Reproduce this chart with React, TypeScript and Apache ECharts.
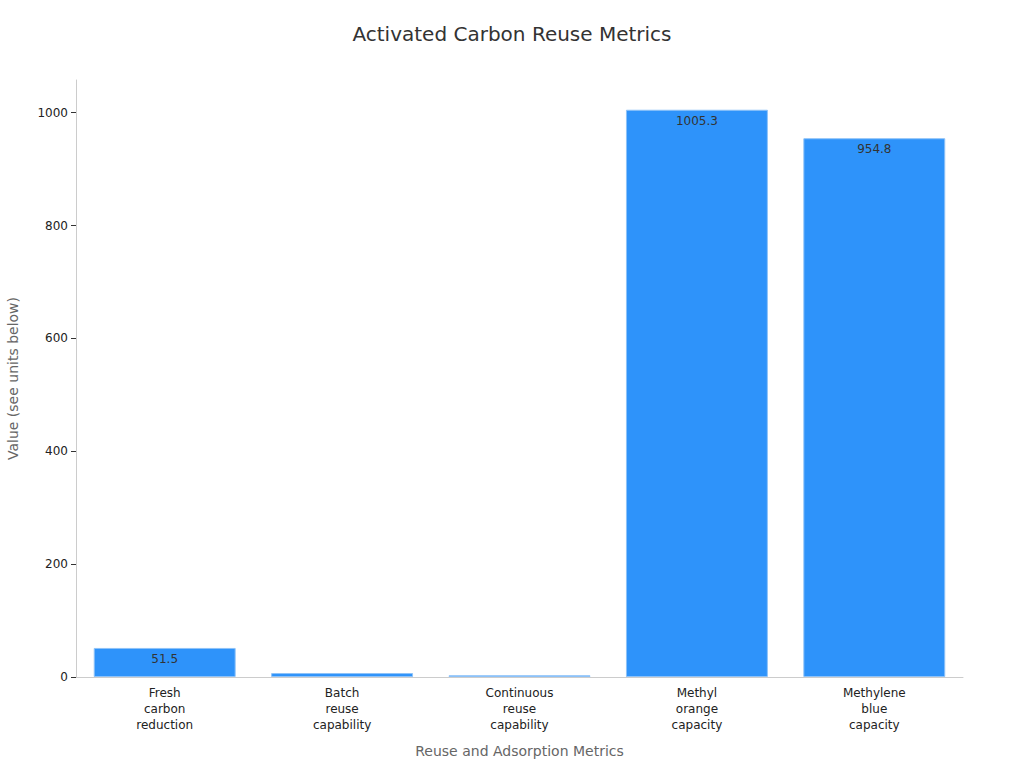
import * as echarts from 'echarts';
import { useEffect, useRef } from 'react';

const CATEGORIES = [
  'Fresh\ncarbon\nreduction',
  'Batch\nreuse\ncapability',
  'Continuous\nreuse\ncapability',
  'Methyl\norange\ncapacity',
  'Methylene\nblue\ncapacity',
];
const VALUES = [51.5, 7, 3, 1005.3, 954.8];
const Y_TICKS = [0, 200, 400, 600, 800, 1000];

const FONT = '"DejaVu Sans", sans-serif';

export default function App() {
  const ref = useRef<HTMLDivElement | null>(null);

  useEffect(() => {
    document.body.style.margin = '0';
    if (!ref.current) return undefined;
    const chart = echarts.init(ref.current, undefined, { renderer: 'svg' });

    chart.setOption({
      animation: false,
      textStyle: { fontFamily: FONT },
      title: {
        text: 'Activated Carbon Reuse Metrics',
        left: 'center',
        top: 19,
        textStyle: { fontSize: 20, fontWeight: 'normal', color: '#333', fontFamily: FONT },
      },
      grid: { left: 76, right: 61, top: 80, bottom: 91, outerBoundsMode: 'none' },
      xAxis: {
        type: 'category',
        data: CATEGORIES,
        name: 'Reuse and Adsorption Metrics',
        nameLocation: 'middle',
        nameGap: 67,
        nameTextStyle: { fontSize: 14, color: '#666' },
        axisLine: { lineStyle: { color: '#ccc' } },
        axisTick: { alignWithLabel: true, lineStyle: { color: '#333' } },
        axisLabel: { fontSize: 12, color: '#222', lineHeight: 16, margin: 8, interval: 0 },
      },
      yAxis: {
        type: 'value',
        min: 0,
        max: 1058,
        name: 'Value (see units below)',
        nameLocation: 'middle',
        nameGap: 56,
        nameTextStyle: { fontSize: 14, color: '#666' },
        axisLine: { show: true, lineStyle: { color: '#ccc' } },
        axisTick: { show: true, customValues: Y_TICKS, lineStyle: { color: '#333' } },
        axisLabel: {
          fontSize: 12,
          color: '#222',
          customValues: Y_TICKS,
          formatter: (v: number) => String(v),
        },
        splitLine: { show: false },
      },
      series: [
        {
          type: 'bar',
          data: VALUES,
          barCategoryGap: '20%',
          itemStyle: { color: '#2E93FA', borderColor: '#8EC2F8', borderWidth: 1 },
          label: {
            show: true,
            position: 'insideTop',
            color: '#333',
            fontSize: 12,
            formatter: (p: { value: number }) => (p.value >= 20 ? String(p.value) : ''),
          },
        },
      ],
    });

    return () => chart.dispose();
  }, []);

  return <div ref={ref} style={{ width: 1024, height: 768 }} />;
}
